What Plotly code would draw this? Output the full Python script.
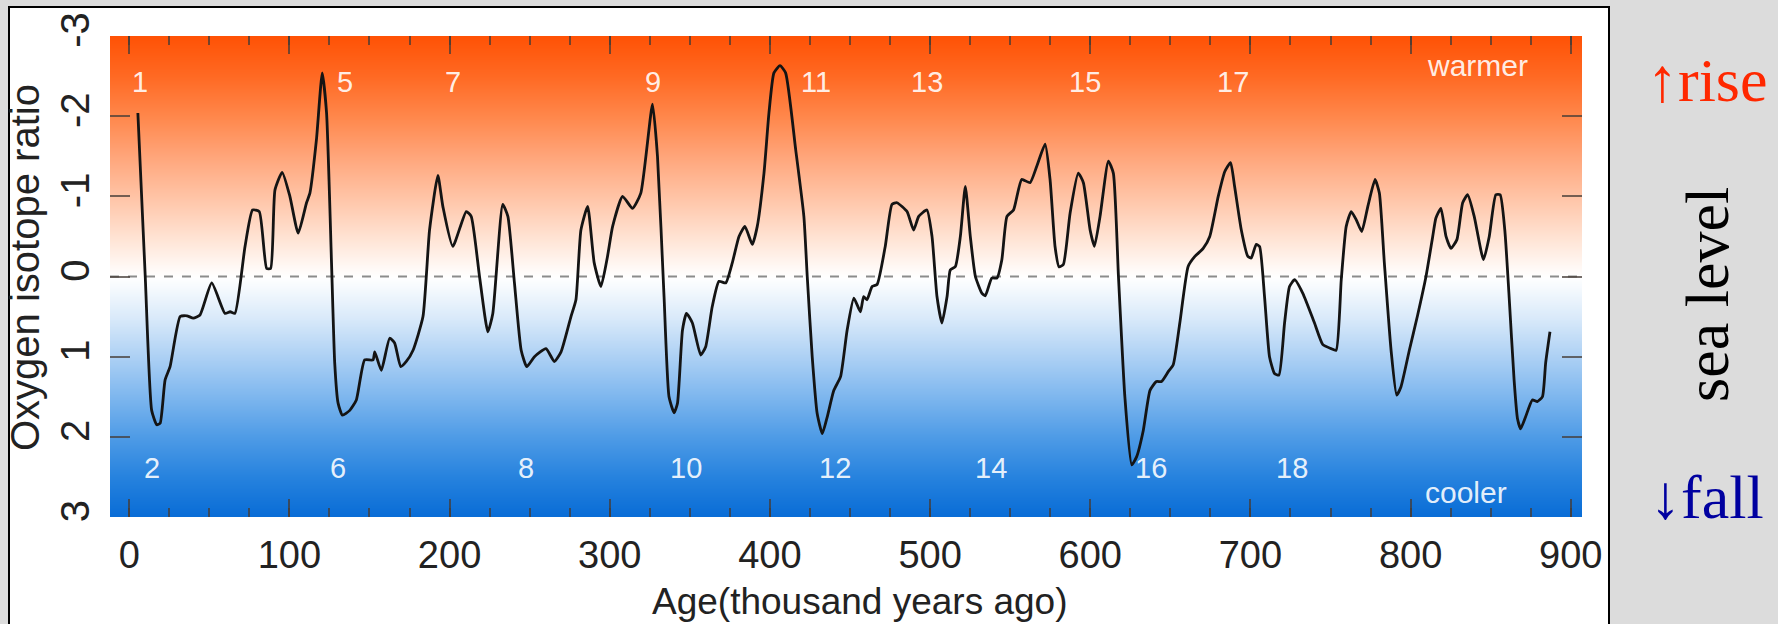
import numpy as np
import plotly.graph_objects as go

# ---------------- data ----------------
age_kyr = [5.4, 10, 14, 17.2, 19.3, 22.4, 25.5, 31.8, 36, 40, 44.2, 51.5, 59.8, 63, 66, 72.3, 77, 81.2,
           85.8, 88.3, 91, 95.5, 100.3, 105.5, 110.7, 112.8, 116.9, 120.5, 123.2, 126.3, 128.3, 130.4,
           133.1, 137.7, 141.8, 147, 152.2, 153.3, 157.4, 162.6, 165.7, 169.5, 173, 177.2, 183.4, 187.5,
           192.7, 195.8, 202, 210.4, 213.5, 218.7, 223.9, 227, 233.2, 236.4, 240.5, 244.7, 248.2, 253,
           260.2, 265.4, 269.6, 275.8, 278.9, 282, 286.2, 290.3, 294.5, 298.6, 301.8, 308, 314.2, 319.4,
           326.7, 329.8, 333.9, 337, 340.2, 342.3, 345.4, 347.9, 351.6, 356.8, 359.9, 364, 368.2, 372.4,
           376.5, 380.7, 384.4, 389, 392.1, 396.3, 399.4, 402.5, 406.3, 409.8, 416.1, 421.2, 423.3, 426.4,
           429.5, 432.7, 435.8, 439.9, 444.1, 448.2, 452.4, 456.5, 458.5, 460.6, 463.8, 466.9, 472, 476.2,
           479.3, 485.6, 489.7, 492.9, 498, 501.2, 504.3, 507.4, 510.6, 512.6, 515.8, 518.9, 522, 525.1,
           528.3, 532.4, 534.5, 538.5, 541.7, 544.8, 548, 552.1, 557.2, 562.4, 566.6, 571.8, 574.9, 578,
           580.5, 583.2, 587.4, 592.5, 595.7, 599.9, 602.6, 606.1, 611.3, 614.4, 617.6, 621.6, 625.9,
           628.9, 633.1, 637.3, 641.3, 644.5, 648.6, 651.8, 655.9, 661.1, 665.3, 670.5, 674.6, 679.9,
           684, 687.6, 690.1, 694.3, 698.4, 700.5, 703.6, 705.7, 708.8, 711.9, 715, 717.8, 721.3, 724.4,
           727.6, 732.7, 740, 745.2, 750.4, 753.5, 756.7, 759.8, 762.9, 766, 769.5, 773.3, 777.8, 780.5,
           783.6, 787.8, 791.3, 794, 799.2, 804.4, 809.6, 813.8, 815.8, 818.9, 822.1, 825.2, 828.9, 832.5,
           835.6, 839.7, 845.5, 849.1, 853.2, 855.9, 858.8, 861.5, 864.6, 866.7, 868.7, 871.8, 876, 879.1,
           882.3, 884.3, 887]

oxygen_ratio = [-2.04, 0, 1.67, 1.85, 1.83, 1.29, 1.125, 0.5, 0.49, 0.52, 0.48, 0.08, 0.46, 0.44, 0.46, -0.375,
                -0.83, -0.81, -0.10, -0.10, -1.08, -1.3, -1.0, -0.54, -0.92, -1.04, -1.71, -2.54, -2.04,
                -0.17, 1.08, 1.58, 1.73, 1.67, 1.54, 1.04, 1.04, 0.94, 1.17, 0.77, 0.83, 1.125, 1.06, 0.92,
                0.5, -0.58, -1.26, -0.875, -0.375, -0.81, -0.75, 0, 0.69, 0.46, -0.9, -0.75, 0.08, 0.92,
                1.125, 1.0, 0.9, 1.06, 0.94, 0.5, 0.29, -0.58, -0.875, -0.17, 0.125, -0.25, -0.625, -1.0,
                -0.85, -1.04, -2.15, -1.5, 0.25, 1.5, 1.7, 1.58, 0.67, 0.46, 0.58, 0.98, 0.875, 0.375, 0.06,
                0.08, -0.17, -0.5, -0.625, -0.4, -0.625, -1.29, -2.04, -2.54, -2.63, -2.54, -1.58, -0.75, 0,
                1.0, 1.71, 1.96, 1.75, 1.42, 1.25, 0.67, 0.27, 0.44, 0.25, 0.29, 0.125, 0.1, -0.375, -0.9,
                -0.92, -0.81, -0.58, -0.75, -0.83, -0.5, 0.25, 0.58, 0.25, -0.08, -0.125, -0.5, -1.125, -0.5,
                0, 0.21, 0.24, 0.02, 0.02, -0.21, -0.75, -0.83, -1.21, -1.17, -1.375, -1.65, -1.21, -0.375,
                -0.12, -0.15, -0.79, -1.29, -1.17, -0.58, -0.375, -0.75, -1.44, -1.29, 0, 1.5, 2.35, 2.25,
                1.92, 1.42, 1.31, 1.31, 1.19, 1.1, 0.58, -0.125, -0.25, -0.35, -0.5, -1.0, -1.31, -1.42,
                -1.125, -0.58, -0.25, -0.23, -0.4, -0.375, 0.25, 1.0, 1.21, 1.23, 0.58, 0.125, 0.04, 0.21,
                0.58, 0.85, 0.9, 0.92, 0.04, -0.625, -0.81, -0.71, -0.56, -0.875, -1.21, -1.04, -0.17, 0.92,
                1.48, 1.375, 0.92, 0.48, 0, -0.5, -0.73, -0.85, -0.5, -0.35, -0.46, -0.92, -1.02, -0.75,
                -0.21, -0.5, -1.02, -1.02, -0.58, 0.25, 1.29, 1.77, 1.9, 1.75, 1.54, 1.56, 1.5, 1.08, 0.69]

# marine isotope stage labels
warm_stages = ["1", "5", "7", "9", "11", "13", "15", "17"]
warm_stage_age = [7, 134.6, 201.9, 327, 428.7, 497.8, 596.9, 689]
cool_stages = ["2", "6", "8", "10", "12", "14", "16", "18"]
cool_stage_age = [14.3, 130.2, 248, 347.7, 440.5, 538.3, 638, 725.9]

x_ticks = [0, 100, 200, 300, 400, 500, 600, 700, 800, 900]
y_ticks = [-3, -2, -1, 0, 1, 2, 3]

# ---------------- layout constants ----------------
W, H = 1778, 624
L, R, T, B = 110, 1582, 36, 517          # plot-area pixel box
X_RANGE = [-12, 907]
Y_RANGE = [3, -3]

def px_x(p):
    return (p - L) / (R - L)

def px_y(p):
    return (B - p) / (B - T)

SANS = "Liberation Sans, Arial, sans-serif"
SERIF = "Liberation Serif, Times New Roman, serif"

fig = go.Figure()

# gradient background (warm orange above, cool blue below)
grad_y = np.linspace(-3.2, 3.2, 65)
fig.add_trace(go.Heatmap(
    x=[X_RANGE[0] - 20, X_RANGE[1] + 20],
    y=grad_y,
    z=[[v, v] for v in grad_y],
    zmin=-3, zmax=3,
    zsmooth="best",
    showscale=False,
    hoverinfo="skip",
    colorscale=[
        [0.0, "rgb(255,82,5)"],
        [0.083, "rgb(255,105,35)"],
        [0.167, "rgb(255,135,75)"],
        [0.25, "rgb(255,165,122)"],
        [0.333, "rgb(255,195,165)"],
        [0.417, "rgb(255,226,210)"],
        [0.5, "rgb(255,255,255)"],
        [0.583, "rgb(218,234,250)"],
        [0.667, "rgb(172,208,244)"],
        [0.75, "rgb(125,182,238)"],
        [0.833, "rgb(78,155,230)"],
        [0.917, "rgb(38,130,222)"],
        [1.0, "rgb(8,108,214)"],
    ],
))

# zero reference line
fig.add_trace(go.Scatter(
    x=X_RANGE, y=[0, 0], mode="lines",
    line=dict(color="rgb(140,140,140)", width=2, dash="dash"),
    hoverinfo="skip", showlegend=False,
))

# isotope curve
fig.add_trace(go.Scatter(
    x=age_kyr, y=oxygen_ratio, mode="lines",
    line=dict(color="rgb(20,20,20)", width=2.8, shape="spline", smoothing=0.5),
    showlegend=False,
))

def ann(**kw):
    kw.setdefault("showarrow", False)
    kw.setdefault("xanchor", "center")
    kw.setdefault("yanchor", "middle")
    return dict(**kw)

annotations = []
for lab, a in zip(warm_stages, warm_stage_age):
    annotations.append(ann(x=a, y=-2.43, xref="x", yref="y", text=lab,
                           font=dict(family=SANS, size=29, color="rgba(255,255,255,0.9)")))
for lab, a in zip(cool_stages, cool_stage_age):
    annotations.append(ann(x=a, y=2.39, xref="x", yref="y", text=lab,
                           font=dict(family=SANS, size=29, color="rgba(255,255,255,0.9)")))
annotations.append(ann(x=841.7, y=-2.63, xref="x", yref="y", text="warmer",
                       font=dict(family=SANS, size=30, color="rgba(255,255,255,0.9)")))
annotations.append(ann(x=834.3, y=2.7, xref="x", yref="y", text="cooler",
                       font=dict(family=SANS, size=30, color="rgba(255,255,255,0.9)")))

# axis titles
annotations.append(ann(x=px_x(860), y=px_y(601), xref="paper", yref="paper",
                       text="Age(thousand years ago)",
                       font=dict(family=SANS, size=37, color="#222")))
annotations.append(ann(x=px_x(25), y=px_y(268), xref="paper", yref="paper",
                       text="Oxygen isotope ratio", textangle=-90,
                       font=dict(family=SANS, size=40, color="#222")))

# right-hand sea level notes
annotations.append(ann(x=px_x(1707), y=px_y(80), xref="paper", yref="paper",
                       text="↑rise",
                       font=dict(family=SERIF, size=62, color="rgb(255,40,0)")))
annotations.append(ann(x=px_x(1707), y=px_y(295), xref="paper", yref="paper",
                       text="sea level", textangle=-90,
                       font=dict(family=SERIF, size=62, color="black")))
annotations.append(ann(x=px_x(1707), y=px_y(497), xref="paper", yref="paper",
                       text="↓fall",
                       font=dict(family=SERIF, size=62, color="rgb(0,0,160)")))

shapes = [
    dict(type="rect", xref="paper", yref="paper",
         x0=px_x(9), x1=px_x(1609), y0=px_y(640), y1=px_y(7),
         fillcolor="white", line=dict(color="black", width=2), layer="below"),
]

tick_col = "rgba(70,60,55,0.75)"
fig.update_layout(
    width=W, height=H,
    margin=dict(l=L, r=W - R, t=T, b=H - B, pad=0, autoexpand=False),
    paper_bgcolor="rgb(220,220,220)",
    plot_bgcolor="white",
    showlegend=False,
    annotations=annotations,
    shapes=shapes,
    xaxis=dict(range=X_RANGE, tickvals=x_ticks, ticktext=[str(v) for v in x_ticks],
               ticks="inside", ticklen=18, tickwidth=2, tickcolor=tick_col, automargin=False,
               minor=dict(ticks="inside", dtick=25, tick0=0, ticklen=9, tickwidth=2, tickcolor=tick_col),
               mirror="ticks", showline=False, showgrid=False, zeroline=False,
               tickfont=dict(family=SANS, size=38, color="#222"), ticklabelstandoff=12),
    yaxis=dict(range=Y_RANGE, tickvals=y_ticks, ticktext=[str(v) for v in y_ticks],
               ticks="inside", ticklen=20, tickwidth=2, tickcolor=tick_col, automargin=False,
               mirror="ticks", showline=False, showgrid=False, zeroline=False,
               tickangle=-90, tickfont=dict(family=SANS, size=40, color="#222"),
               ticklabelstandoff=12),
)

fig.write_html("out.html", config={"displayModeBar": False},
               post_script="document.body.style.margin='0';")
